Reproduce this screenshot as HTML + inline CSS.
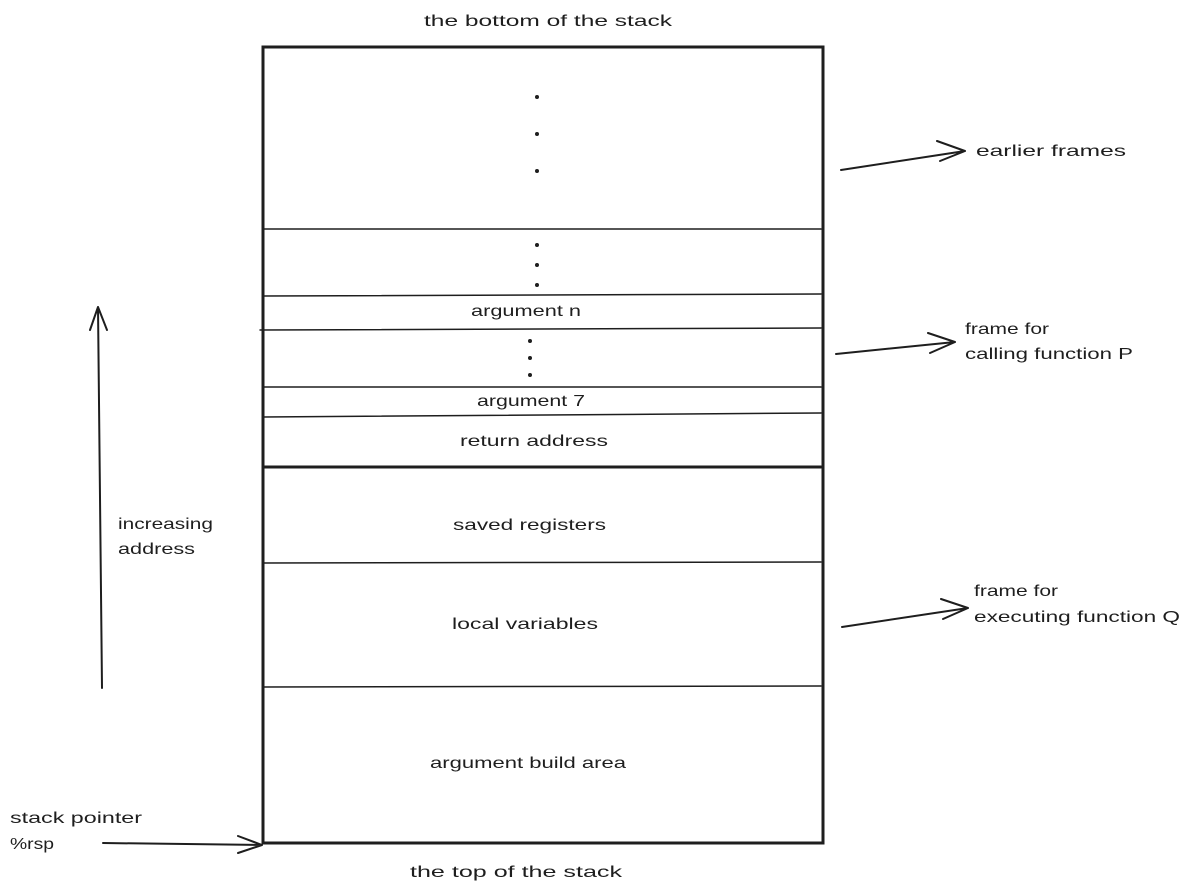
<!DOCTYPE html>
<html><head><meta charset="utf-8"><style>
html,body{margin:0;padding:0;background:#fff;}
svg{display:block;}
text{font-family:"Liberation Sans",sans-serif;font-size:16px;fill:#1e1e1e;}
</style></head><body>
<svg width="1187" height="893" viewBox="0 0 1187 893" xmlns="http://www.w3.org/2000/svg">
<g stroke="#1e1e1e" fill="none" stroke-linecap="round">
<rect x="263" y="47" width="560" height="796" stroke-width="3"/>
<line x1="263" y1="229" x2="821" y2="229" stroke-width="1.5"/>
<line x1="263" y1="296" x2="821" y2="294" stroke-width="1.5"/>
<line x1="260" y1="330" x2="821" y2="328" stroke-width="1.5"/>
<line x1="263" y1="387" x2="821" y2="387" stroke-width="1.5"/>
<line x1="263" y1="417" x2="821" y2="413" stroke-width="1.5"/>
<line x1="263" y1="467" x2="821" y2="467" stroke-width="3"/>
<line x1="263" y1="563" x2="821" y2="562" stroke-width="1.5"/>
<line x1="263" y1="687" x2="821" y2="686" stroke-width="1.5"/>
<path d="M841 170 L965 151 M965 151 L937 141 M965 151 L940 161" stroke-width="2"/>
<path d="M836 354 L955 342 M955 342 L928 333 M955 342 L930 353" stroke-width="2"/>
<path d="M842 627 L968 608 M968 608 L941 599 M968 608 L943 619" stroke-width="2"/>
<path d="M102 688 L98 307 M98 307 L90 330 M98 307 L107 330" stroke-width="2"/>
<path d="M103 843 L262 845 M262 845 L238 836 M262 845 L238 853" stroke-width="2"/>
</g>
<g fill="#1e1e1e">
<circle cx="537" cy="97" r="2"/><circle cx="537" cy="134" r="2"/><circle cx="537" cy="171" r="2"/>
<circle cx="537" cy="245" r="2"/><circle cx="537" cy="265" r="2"/><circle cx="537" cy="285" r="2"/>
<circle cx="530" cy="341" r="2"/><circle cx="530" cy="358" r="2"/><circle cx="530" cy="375" r="2"/>
</g>
<text x="424" y="26" textLength="248" lengthAdjust="spacingAndGlyphs">the bottom of the stack</text>
<text x="410" y="877" textLength="212" lengthAdjust="spacingAndGlyphs">the top of the stack</text>
<text x="976" y="156" textLength="150" lengthAdjust="spacingAndGlyphs">earlier frames</text>
<text x="965" y="334" textLength="84" lengthAdjust="spacingAndGlyphs">frame for</text>
<text x="965" y="359" textLength="168" lengthAdjust="spacingAndGlyphs">calling function P</text>
<text x="974" y="596" textLength="84" lengthAdjust="spacingAndGlyphs">frame for</text>
<text x="974" y="622" textLength="206" lengthAdjust="spacingAndGlyphs">executing function Q</text>
<text x="118" y="529" textLength="95" lengthAdjust="spacingAndGlyphs">increasing</text>
<text x="118" y="554" textLength="77" lengthAdjust="spacingAndGlyphs">address</text>
<text x="10" y="823" textLength="132" lengthAdjust="spacingAndGlyphs">stack pointer</text>
<text x="10" y="849" textLength="44" lengthAdjust="spacingAndGlyphs">%rsp</text>
<text x="471" y="316" textLength="110" lengthAdjust="spacingAndGlyphs">argument n</text>
<text x="477" y="406" textLength="108" lengthAdjust="spacingAndGlyphs">argument 7</text>
<text x="460" y="446" textLength="148" lengthAdjust="spacingAndGlyphs">return address</text>
<text x="453" y="530" textLength="153" lengthAdjust="spacingAndGlyphs">saved registers</text>
<text x="452" y="629" textLength="146" lengthAdjust="spacingAndGlyphs">local variables</text>
<text x="430" y="768" textLength="196" lengthAdjust="spacingAndGlyphs">argument build area</text>
</svg>
</body></html>
